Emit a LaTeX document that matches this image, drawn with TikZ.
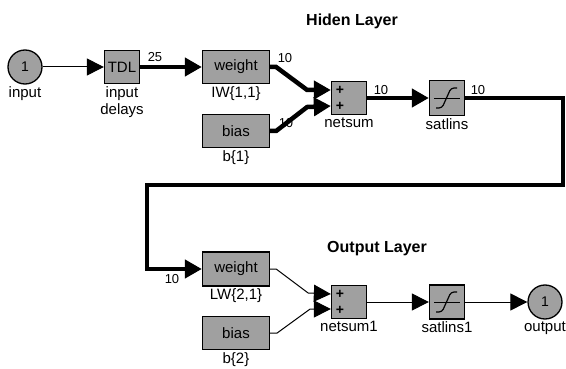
\documentclass[tikz,border=0pt]{standalone}
\usepackage{fontspec}
\setmainfont{Liberation Sans}
\usetikzlibrary{arrows.meta, positioning}
\definecolor{blockgray}{RGB}{160,160,160}

\begin{document}
\begin{tikzpicture}[x=1pt, y=-1pt,
    blk/.style={rectangle, draw=black, fill=blockgray, line width=1.3pt,
                minimum height=33pt, inner sep=0pt, font=\fontsize{15}{17}\selectfont},
    port/.style={circle, draw=black, fill=blockgray, line width=1.3pt,
                 minimum size=34pt, inner sep=0pt, font=\fontsize{14}{16}\selectfont},
    lbl/.style={inner sep=1pt, align=center, font=\fontsize{15}{17}\selectfont},
    num/.style={inner sep=0pt, font=\fontsize{13}{15}\selectfont},
    plus/.style={inner sep=0pt, font=\bfseries\fontsize{14}{15}\selectfont},
    ttl/.style={inner sep=0pt, font=\bfseries\fontsize{16}{18}\selectfont},
    sig/.style={-{Triangle[length=17pt, width=17pt]}, line width=1pt},
    bus/.style={-{Triangle[length=17pt, width=18pt]}, line width=4.5pt}
  ]
  \useasboundingbox (0,0) rectangle (566,369);

  % hidden layer
  \node[ttl] (hid) at (352,21) {Hiden Layer};
  \node[port] (in) at (25,67) {1};
  \node[lbl, below=1pt of in] (in-lbl) {input};
  \node[blk, minimum width=35pt] (tdl) at (122,67) {TDL};
  \node[lbl, below=1pt of tdl] (tdl-lbl) {input\\delays};
  \node[blk, minimum width=67pt] (w1) at (236,67) {weight};
  \node[lbl, below=1pt of w1] (w1-lbl) {IW\{1,1\}};
  \node[blk, minimum width=67pt] (b1) at (236,131) {bias};
  \node[lbl, below=1pt of b1] (b1-lbl) {b\{1\}};
  \node[blk, minimum width=35pt] (ns1) at (349,98) {};
  \node[lbl, below=1pt of ns1] (ns1-lbl) {netsum};
  \node[blk, minimum width=35pt, minimum height=35pt] (sat1) at (447,98) {};
  \node[lbl, below=1pt of sat1] (sat1-lbl) {satlins};

  % output layer
  \node[ttl] (outl) at (377,249) {Output Layer};
  \node[blk, minimum width=67pt, minimum height=34pt] (w2) at (236,269) {weight};
  \node[lbl, below=1pt of w2] (w2-lbl) {LW\{2,1\}};
  \node[blk, minimum width=67pt] (b2) at (236,333) {bias};
  \node[lbl, below=1pt of b2] (b2-lbl) {b\{2\}};
  \node[blk, minimum width=35pt] (ns2) at (349,302) {};
  \node[lbl, below=1pt of ns2] (ns2-lbl) {netsum1};
  \node[blk, minimum width=35pt, minimum height=34pt] (sat2) at (447,302) {};
  \node[lbl, below=1pt of sat2] (sat2-lbl) {satlins1};
  \node[port] (out) at (545,302) {1};
  \node[lbl, below=1pt of out] (out-lbl) {output};

  % sizes
  \node[num] (n25) at (155,57) {25};
  \node[num] (n10a) at (285,58) {10};
  \node[num] (n10b) at (286,123) {10};
  \node[num] (n10c) at (381,90) {10};
  \node[num] (n10d) at (478,90) {10};
  \node[num] (n10e) at (172,279) {10};

  % block icons
  \foreach \n in {ns1, ns2} {
    \node[plus] (\n-p1) at ([shift={(-9pt,8pt)}]\n.center) {+};
    \node[plus] (\n-p2) at ([shift={(-9pt,-8pt)}]\n.center) {+};
  }
  \foreach \n in {sat1, sat2} {
    \draw[line width=0.8pt] ([xshift=-13pt]\n.center) -- ([xshift=13pt]\n.center);
    \draw[line width=1.2pt, rounded corners=3pt] ([shift={(-11pt,-10pt)}]\n.center)
      -- ([shift={(-5pt,-10pt)}]\n.center) -- ([shift={(4pt,10pt)}]\n.center)
      -- ([shift={(10pt,10pt)}]\n.center);
  }

  \coordinate (ns1-in1) at ([yshift=8pt]ns1.west);
  \coordinate (ns1-in2) at ([yshift=-8pt]ns1.west);
  \coordinate (ns2-in1) at ([yshift=8pt]ns2.west);
  \coordinate (ns2-in2) at ([yshift=-7pt]ns2.west);
  \coordinate (loop) at (147,185);

  \draw[sig] (in) -- (tdl);
  \draw[bus] (tdl) -- (w1);
  \draw[bus] (w1.east) -- ++(6,0) -- ++(31,23) -- (ns1-in1);
  \draw[bus] (b1.east) -- ++(6,0) -- ++(31,-24) -- (ns1-in2);
  \draw[bus] (ns1) -- (sat1);
  \draw[bus] (sat1.east) -- ++(98,0) |- (loop) |- (w2.west);
  \draw[sig] (w2.east) -- ++(6,0) -- ++(32,24) -- (ns2-in1);
  \draw[sig] (b2.east) -- ++(7,0) -- ++(33,-24) -- (ns2-in2);
  \draw[sig] (ns2) -- (sat2);
  \draw[sig] (sat2) -- (out);
\end{tikzpicture}
\end{document}
